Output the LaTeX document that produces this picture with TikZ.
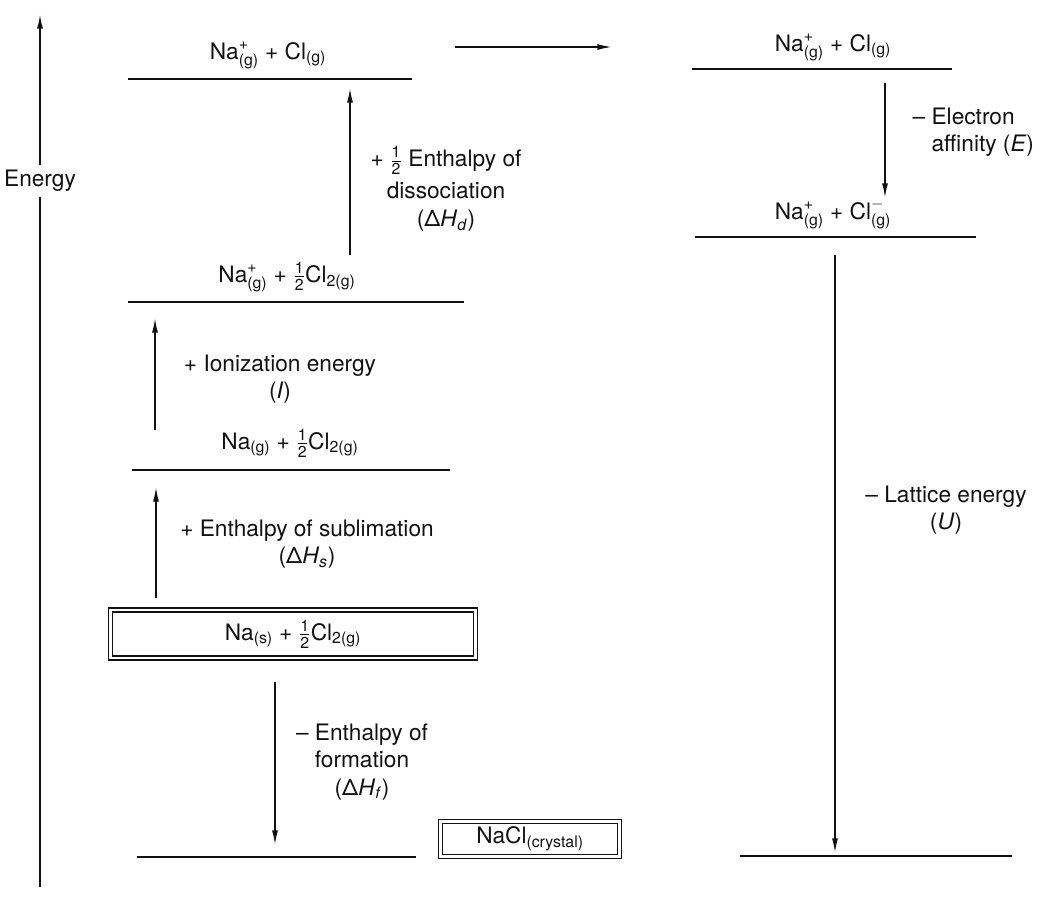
\documentclass[tikz,border=0pt]{standalone}
\usepackage{amsmath}
\usepackage{fontspec}
\setmainfont{TeX Gyre Heros}
\usepackage{tikz}
\usetikzlibrary{arrows.meta}
\definecolor{eink}{HTML}{111111}
\newcommand{\ionp}[3]{$\text{#1}^{\text{#2}}_{\text{#3}}$}
\newcommand{\half}{$\frac{\text{1}}{\text{2}}$}
\newcommand{\dH}[1]{(Δ\textit{H}\textsubscript{\textit{#1}})}
\tikzset{
  lvl/.style  ={draw=eink, line width=1.7pt},
  axis/.style ={draw=eink, line width=1.3pt},
  flow/.style ={-{Latex[length=11pt,width=4.5pt]}, line width=1.2pt, draw=eink},
  spec/.style ={inner sep=2pt, text=eink},
  lbl/.style  ={align=center, text=eink},
  dbox/.style ={draw=eink, line width=0.8pt, double, double distance=2.2pt,
                inner sep=4pt, text=eink},
}

\begin{document}
\begin{tikzpicture}[x=0.75pt, y=-0.75pt,
    every node/.style={font=\fontsize{17}{20.5}\selectfont}]
  \useasboundingbox (0,0) rectangle (1051,897);
  % energy axis
  \coordinate (axB) at (40,887);
  \coordinate (axT) at (40,14);
  \node[fill=white, inner xsep=1pt, inner ysep=4pt, text=eink] (energy) at (40,181) {Energy};
  \draw[axis] (axB) -- (energy);
  \draw[flow, line width=1.3pt] (energy) -- (axT);
  % levels
  \foreach \n/\xa/\xb/\y in {top/128/412/79, rtop/692/952/69, rmid/695/976/237,
      ion/128/464/302, gas/132/450/470, botl/137/416/857, botr/740/1012/856}{
    \coordinate (\n W) at (\xa,\y);
    \coordinate (\n E) at (\xb,\y);
    \draw[lvl] (\n W) -- (\n E);
  }
  % species
  \node[spec] (sTop)  at (268,55)  {\ionp{Na}{+}{(g)} + Cl\textsubscript{(g)}};
  \node[spec] (sRtop) at (833,47)  {\ionp{Na}{+}{(g)} + Cl\textsubscript{(g)}};
  \node[spec] (sRmid) at (833,214) {\ionp{Na}{+}{(g)} + \ionp{Cl}{$-$}{(g)}};
  \node[spec] (sIon)  at (287,277) {\ionp{Na}{+}{(g)} + \half Cl\textsubscript{2(g)}};
  \node[spec] (sGas)  at (290,443) {Na\textsubscript{(g)} + \half Cl\textsubscript{2(g)}};
  \node[dbox, minimum width=274pt, minimum height=36pt] (sStd) at (293,634)
    {Na\textsubscript{(s)} + \half Cl\textsubscript{2(g)}};
  \node[dbox, minimum width=134pt, minimum height=25pt] (sNaCl) at (530,839)
    {NaCl\textsubscript{(crystal)}};
  % steps
  \coordinate (hA) at (455,47);   \coordinate (hB) at (612,47);
  \coordinate (dsA) at (350,255); \coordinate (dsB) at (350,88);
  \coordinate (eaA) at (885,83);  \coordinate (eaB) at (885,198);
  \coordinate (ltA) at (835,255); \coordinate (ltB) at (835,853);
  \coordinate (ieA) at (155,430); \coordinate (ieB) at (155,318);
  \coordinate (sbA) at (156,598); \coordinate (sbB) at (156,487);
  \coordinate (fmA) at (275,682); \coordinate (fmB) at (275,845);
  \draw[flow] (hA) -- (hB);
  \draw[flow] (dsA) -- (dsB);
  \draw[flow] (eaA) -- (eaB);
  \draw[flow] (ltA) -- (ltB);
  \draw[flow] (ieA) -- (ieB);
  \draw[flow] (sbA) -- (sbB);
  \draw[flow] (fmA) -- (fmB);
  % step labels
  \node[lbl] (tDs) at (446,189) {+ \half\ Enthalpy of\\[3pt]dissociation\\[1pt]\dH{d}};
  \node[lbl, anchor=west, align=left] (tEa) at (908,132)
    {– Electron\\\phantom{– }affinity (\textit{E})};
  \node[lbl] (tLt) at (946,510) {– Lattice energy\\(\textit{U})};
  \node[lbl] (tIe) at (280,379) {+ Ionization energy\\(\textit{I})};
  \node[lbl] (tSb) at (307,544) {+ Enthalpy of sublimation\\\dH{s}};
  \node[lbl] (tFm) at (362,762) {– Enthalpy of\\formation\\\dH{f}};
\end{tikzpicture}
\end{document}
